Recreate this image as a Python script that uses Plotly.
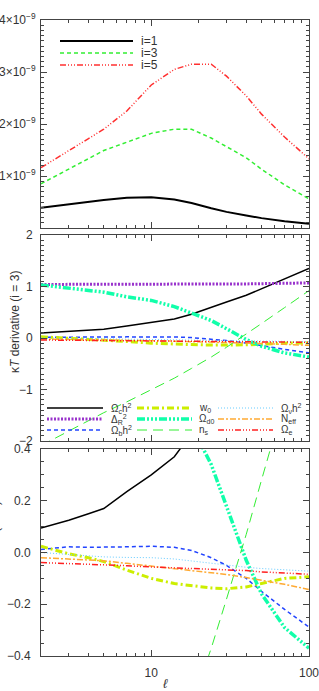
import numpy as np
import plotly.graph_objects as go

# ---------------- data ----------------
ell = [2, 3, 4, 5, 7, 10, 14, 18, 24, 30, 40, 50, 70, 100]

# top panel (units of 1e-9)
cl_i1 = [0.39, 0.46, 0.51, 0.54, 0.58, 0.59, 0.55, 0.48, 0.38, 0.31, 0.24, 0.19, 0.13, 0.08]
cl_i3 = [0.85, 1.13, 1.34, 1.49, 1.65, 1.82, 1.90, 1.90, 1.73, 1.56, 1.35, 1.13, 0.83, 0.56]
cl_i5 = [1.16, 1.48, 1.72, 1.90, 2.25, 2.75, 3.05, 3.15, 3.15, 2.92, 2.54, 2.19, 1.75, 1.33]
top_names = ["i=1", "i=3", "i=5"]

# derivatives
d_omch2 = [0.095, 0.125, 0.15, 0.17, 0.235, 0.30, 0.37, 0.46, 0.60, 0.70, 0.83, 0.96, 1.15, 1.35]
d_deltar2 = [1.04, 1.04, 1.04, 1.04, 1.04, 1.04, 1.04, 1.04, 1.045, 1.045, 1.05, 1.055, 1.06, 1.07]
d_ombh2 = [0.012, 0.022, 0.020, 0.020, 0.022, 0.024, 0.020, 0.008, -0.020, -0.050, -0.100, -0.150, -0.220, -0.288]
d_w0 = [0.024, -0.005, -0.020, -0.035, -0.068, -0.100, -0.120, -0.128, -0.137, -0.140, -0.133, -0.120, -0.100, -0.094]
d_omd0 = [1.03, 0.97, 0.93, 0.89, 0.80, 0.73, 0.61, 0.49, 0.34, 0.18, -0.03, -0.16, -0.29, -0.37]
d_ns = [-2.09, -1.81, -1.60, -1.45, -1.24, -1.01, -0.78, -0.59, -0.37, -0.18, 0.07, 0.28, 0.59, 0.92]
d_omnuh2 = [0.000, -0.008, -0.013, -0.017, -0.019, -0.020, -0.025, -0.033, -0.042, -0.050, -0.057, -0.062, -0.067, -0.072]
d_neff = [-0.020, -0.025, -0.028, -0.032, -0.042, -0.052, -0.062, -0.069, -0.077, -0.085, -0.097, -0.107, -0.123, -0.143]
d_ome = [-0.039, -0.042, -0.044, -0.046, -0.051, -0.056, -0.059, -0.062, -0.065, -0.066, -0.070, -0.075, -0.079, -0.084]

param_labels = ["Ω<sub>c</sub>h<sup>2</sup>", "Δ<sub>R</sub><sup>2</sup>", "Ω<sub>b</sub>h<sup>2</sup>",
                "w<sub>0</sub>", "Ω<sub>d0</sub>", "n<sub>s</sub>",
                "Ω<sub>ν</sub>h<sup>2</sup>", "N<sub>eff</sub>", "Ω<sub>e</sub>"]
param_data = [d_omch2, d_deltar2, d_ombh2, d_w0, d_omd0, d_ns, d_omnuh2, d_neff, d_ome]

y1_tickvals = [1e-9, 2e-9, 3e-9, 4e-9]
y1_ticktext = ["1×10<sup>−9</sup>", "2×10<sup>−9</sup>", "3×10<sup>−9</sup>", "4×10<sup>−9</sup>"]
y2_tickvals = [-2, -1, 0, 1, 2]
y2_ticktext = ["−2", "−1", "0", "1", "2"]
y3_tickvals = [-0.4, -0.2, 0.0, 0.2, 0.4]
y3_ticktext = ["−0.4", "−0.2", "0.0", "0.2", "0.4"]

# ---------------- styles ----------------
DDDD = "6px,2px,1px,2px,1px,2px,1px,2px"
top_styles = [dict(color="#000000", width=2, dash="solid"),
              dict(color="#33ee33", width=1.5, dash="4px,3px"),
              dict(color="#ff3030", width=1.5, dash=DDDD)]
param_styles = [dict(color="#000000", width=1.5, dash="solid"),
                dict(color="#9933cc", width=3, dash="2px,1.5px"),
                dict(color="#2244ff", width=1.5, dash="4px,3px"),
                dict(color="#ccee00", width=3, dash="7px,3px,2px,3px"),
                dict(color="#11ffaa", width=3.5, dash="8px,2px,2px,2px,2px,2px,2px,2px"),
                dict(color="#33ee33", width=1, dash="10px,6px"),
                dict(color="#66ccff", width=1, dash="1px,2px"),
                dict(color="#ffaa33", width=1.5, dash="6px,2px,2px,2px"),
                dict(color="#ff2020", width=1.5, dash=DDDD)]

W, H = 319, 691
ML, MR, MT, MB = 41, 10, 20, 35
PW, PH = W - ML - MR, H - MT - MB


def xp(px):
    return (px - ML) / PW


def yp(py):
    return (H - MB - py) / PH


fig = go.Figure()
for vals, name, st in zip([cl_i1, cl_i3, cl_i5], top_names, top_styles):
    fig.add_trace(go.Scatter(x=ell, y=np.array(vals) * 1e-9, mode="lines", name=name,
                             line=st, xaxis="x", yaxis="y", showlegend=False))
for ax in ["2", "3"]:
    for vals, name, st in zip(param_data, param_labels, param_styles):
        fig.add_trace(go.Scatter(x=ell, y=vals, mode="lines", name=name, line=st,
                                 xaxis="x" + ax, yaxis="y" + ax, showlegend=False))

font = dict(family="Liberation Sans, Arial, sans-serif", size=12, color="#333333")
frame = "#444444"
xcommon = dict(type="log", range=[np.log10(2), 2], showgrid=False, zeroline=False,
               showline=True, linecolor=frame, linewidth=1, mirror="allticks",
               ticks="inside", ticklen=6, tickcolor=frame, tickvals=[10, 100],
               ticktext=["10", "100"], automargin=False, ticklabeloverflow="allow",
               minor=dict(ticks="inside", ticklen=3, tickcolor=frame,
                          tickvals=[2, 3, 4, 5, 6, 7, 8, 9, 20, 30, 40, 50, 60, 70, 80, 90]))
ycommon = dict(showgrid=False, zeroline=False, showline=True, linecolor=frame, linewidth=1,
               mirror="allticks", ticks="inside", ticklen=6, tickcolor=frame,
               tickmode="array", automargin=False, ticklabeloverflow="allow")

d1 = [yp(228), 1.0]
d2 = [yp(441), yp(235)]
d3 = [0.0, yp(449)]

fig.update_layout(
    width=W, height=H, margin=dict(l=ML, r=MR, t=MT, b=MB, autoexpand=False),
    paper_bgcolor="white", plot_bgcolor="white", font=font, showlegend=False,
    xaxis=dict(xcommon, anchor="y", domain=[0, 1], showticklabels=False),
    xaxis2=dict(xcommon, anchor="y2", domain=[0, 1], showticklabels=False),
    xaxis3=dict(xcommon, anchor="y3", domain=[0, 1], showticklabels=True, ticklabelstandoff=6),
    yaxis=dict(ycommon, anchor="x", domain=d1, range=[0, 4e-9], tickvals=y1_tickvals,
               ticktext=y1_ticktext, ticklabelstandoff=2,
               minor=dict(ticks="inside", ticklen=3, tickcolor=frame, dtick=1e-10, tick0=0)),
    yaxis2=dict(ycommon, anchor="x2", domain=d2, range=[-2, 2], tickvals=y2_tickvals,
                ticktext=y2_ticktext, ticklabelstandoff=5,
                minor=dict(ticks="inside", ticklen=3, tickcolor=frame, dtick=0.1, tick0=0)),
    yaxis3=dict(ycommon, anchor="x3", domain=d3, range=[-0.4, 0.4], tickvals=y3_tickvals,
                ticktext=y3_ticktext, ticklabelstandoff=7,
                minor=dict(ticks="inside", ticklen=3, tickcolor=frame, dtick=0.05, tick0=0)),
)

shapes, annos = [], []
# top legend
for k, (name, st) in enumerate(zip(top_names, top_styles)):
    yy = yp(41 + 12 * k)
    shapes.append(dict(type="line", xref="paper", yref="paper", x0=xp(60), x1=xp(133),
                       y0=yy, y1=yy, line=st))
    annos.append(dict(text=name, x=xp(139), y=yy, xref="paper", yref="paper",
                      xanchor="left", yanchor="middle", showarrow=False,
                      font=dict(font, size=12)))
# middle legend: 3 columns
col_x = [(47, 103, 109), (137, 192, 197), (218, 273, 279)]
for idx, (name, st) in enumerate(zip(param_labels, param_styles)):
    c, r = idx // 3, idx % 3
    yy = yp(408 + 11 * r)
    x0, x1, xt = col_x[c]
    shapes.append(dict(type="line", xref="paper", yref="paper", x0=xp(x0), x1=xp(x1),
                       y0=yy, y1=yy, line=st))
    annos.append(dict(text=name, x=xp(xt), y=yy, xref="paper", yref="paper",
                      xanchor="left", yanchor="middle", showarrow=False,
                      font=dict(font, size=10)))

annos.append(dict(text="κ<i>T</i> derivative (i = 3)", x=xp(15), y=yp(322), xref="paper",
                  yref="paper", textangle=-90, showarrow=False, xanchor="center",
                  yanchor="middle", font=dict(font, size=12)))
annos.append(dict(text="κ<i>E</i> derivative (i = 3)", x=xp(-5), y=yp(553), xref="paper",
                  yref="paper", textangle=-90, showarrow=False, xanchor="center",
                  yanchor="middle", font=dict(font, size=12)))
annos.append(dict(text="<i>ℓ</i>", x=xp(165), y=yp(683), xref="paper", yref="paper",
                  showarrow=False, xanchor="center", yanchor="middle",
                  font=dict(font, size=13)))

fig.update_layout(shapes=shapes, annotations=annos)
fig.write_html("out.html", config={"displayModeBar": False},
               post_script="document.body.style.margin='0px';document.body.style.overflow='hidden';")
